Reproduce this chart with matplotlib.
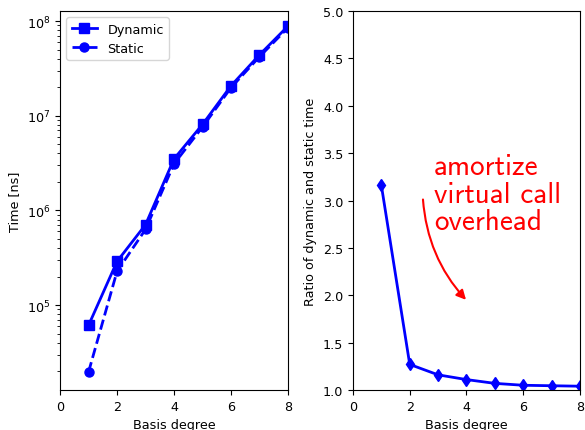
import matplotlib
matplotlib.use("Agg")
import matplotlib.pyplot as plt

plt.rcParams['font.size'] = 9.2

degree = [1, 2, 3, 4, 5, 6, 7, 8]
dynamic_ns = [6.1e4, 2.89e5, 7.06e5, 3.5e6, 8.1e6, 2.07e7, 4.4e7, 8.85e7]
static_ns = [1.96e4, 2.27e5, 6.3e5, 3.1e6, 7.6e6, 1.98e7, 4.2e7, 8.5e7]
ratio = [3.16, 1.27, 1.16, 1.11, 1.07, 1.05, 1.045, 1.04]

fig = plt.figure(figsize=(5.85, 4.31), dpi=100)
ax1 = fig.add_axes([0.1026, 0.0928, 0.3897, 0.8793])
ax2 = fig.add_axes([0.6034, 0.0928, 0.3880, 0.8793])

# left: absolute timings
ax1.plot(degree, dynamic_ns, 's-', color='blue', lw=2, ms=6.5, label='Dynamic')
ax1.plot(degree, static_ns, 'o--', color='blue', lw=2, ms=6.5, label='Static')
ax1.set_yscale('log')
ax1.set_xlim(0, 8)
ax1.set_ylim(10**4.103, 10**8.106)
ax1.set_xticks([0, 2, 4, 6, 8])
ax1.set_xlabel('Basis degree')
ax1.set_ylabel('Time [ns]')
ax1.legend(loc='upper left')

# right: ratio
ax2.plot(degree, ratio, 'd-', color='blue', lw=2, ms=6.5)
ax2.set_xlim(0, 8)
ax2.set_ylim(1.0, 5.0)
ax2.set_xticks([0, 2, 4, 6, 8])
ax2.set_xlabel('Basis degree')
ax2.set_ylabel('Ratio of dynamic and static time')

ax2.annotate('', xy=(4.05, 1.93), xytext=(2.46, 3.04),
             arrowprops=dict(arrowstyle='-|>', color='red', lw=1.5,
                             mutation_scale=14,
                             connectionstyle='arc3,rad=0.18'))
ax2.text(2.86, 2.70, 'amortize\nvirtual call\noverhead', color='red',
         fontsize=21, family='cmss10', ha='left', va='baseline', linespacing=1.02)

fig.savefig('out.png', dpi=100)
